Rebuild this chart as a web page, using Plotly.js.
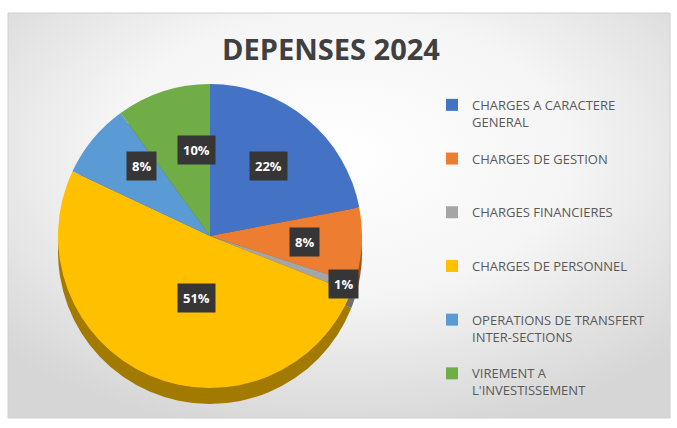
<!DOCTYPE html>
<html>
<head>
<meta charset="utf-8">
<script src="https://cdn.plot.ly/plotly-3.0.1.min.js"></script>
<style>html,body{margin:0;padding:0;background:#fff;}#chart{width:677px;height:428px;}</style>
</head>
<body>
<div id="chart"></div>
<script>
// ---- data ----
const categories = [
  "CHARGES A CARACTERE GENERAL",
  "CHARGES DE GESTION",
  "CHARGES FINANCIERES",
  "CHARGES DE PERSONNEL",
  "OPERATIONS DE TRANSFERT INTER-SECTIONS",
  "VIREMENT A L'INVESTISSEMENT"
];
const legendLabels = [
  "\u00a0<br>CHARGES A CARACTERE<br>GENERAL",
  "\u00a0<br>CHARGES DE GESTION<br>\u00a0",
  "\u00a0<br>CHARGES FINANCIERES<br>\u00a0",
  "\u00a0<br>CHARGES DE PERSONNEL<br>\u00a0",
  "\u00a0<br>OPERATIONS DE TRANSFERT<br>INTER-SECTIONS",
  "\u00a0<br>VIREMENT A<br>L'INVESTISSEMENT"
];
const values = [22, 8, 1, 51, 8, 10];

// ---- style ----
const topColors  = ["#4472C4", "#ED7D31", "#A5A5A5", "#FFC000", "#5B9BD5", "#70AD47"];
const sideColors = ["#2c4d86", "#a4531d", "#6f6f6f", "#a37a00", "#3b6a96", "#4b7630"];
const labelRadius = [0.6, 0.62, 0.93, 0.55, 0.72, 0.7];

const W = 677, H = 428;
const cx = 210, cy = 236, R = 152, depth = 16;
const px = x => x / W, py = y => 1 - y / H;

const main = {
  type: "pie", labels: legendLabels, values: values, sort: false,
  direction: "clockwise", rotation: 0,
  marker: {colors: topColors, line: {width: 0}},
  textinfo: "none", hoverinfo: "skip",
  domain: {x: [px(cx - R), px(cx + R)], y: [py(cy + R), py(cy - R)]}
};
const side = {
  type: "pie", labels: legendLabels, values: values, sort: false,
  direction: "clockwise", rotation: 0, showlegend: false,
  marker: {colors: sideColors, line: {width: 0}},
  textinfo: "none", hoverinfo: "skip",
  domain: {x: [px(cx - R), px(cx + R)], y: [py(cy + R + depth), py(cy - R + depth)]}
};

const total = values.reduce((a, b) => a + b, 0);
let cum = 0;
const annotations = values.map((v, i) => {
  const mid = (cum + v / 2) / total * 2 * Math.PI;
  cum += v;
  const r = R * labelRadius[i];
  return {
    xref: "paper", yref: "paper",
    x: px(cx + r * Math.sin(mid)), y: py(cy - r * Math.cos(mid)),
    text: "<b>" + Math.round(v / total * 100) + "%</b>",
    showarrow: false, bgcolor: "#363636", borderpad: 5,
    font: {family: "Open Sans, sans-serif", size: 13, color: "#ffffff"}
  };
});

const bgSvg = '<svg xmlns="http://www.w3.org/2000/svg" width="662" height="405">' +
  '<defs><radialGradient id="g" cx="50%" cy="35%" r="70%">' +
  '<stop offset="0" stop-color="#ffffff"/><stop offset="0.5" stop-color="#f5f5f5"/>' +
  '<stop offset="1" stop-color="#d6d6d6"/></radialGradient></defs>' +
  '<rect width="662" height="405" fill="url(#g)"/></svg>';

const layout = {
  width: W, height: H,
  margin: {l: 0, r: 0, t: 0, b: 0},
  paper_bgcolor: "#ffffff",
  title: {
    text: "<b>DEPENSES 2024</b>",
    x: px(331), xanchor: "center", y: py(50), yanchor: "middle",
    font: {family: "Open Sans, sans-serif", size: 29, color: "#404040"}
  },
  images: [{
    source: "data:image/svg+xml;charset=utf-8," + encodeURIComponent(bgSvg),
    xref: "paper", yref: "paper", x: px(8), y: py(13),
    sizex: px(670) - px(8), sizey: py(13) - py(418),
    xanchor: "left", yanchor: "top", sizing: "stretch", layer: "below"
  }],
  shapes: [{
    type: "rect", xref: "paper", yref: "paper",
    x0: px(8), x1: px(670), y0: py(418), y1: py(13),
    line: {color: "#d0d0d0", width: 1}, fillcolor: "rgba(0,0,0,0)", layer: "below"
  }],
  legend: {
    x: px(432), xanchor: "left", y: py(73), yanchor: "top",
    bgcolor: "rgba(0,0,0,0)",
    font: {family: "Open Sans, sans-serif", size: 13, color: "#595959"},
    traceorder: "normal"
  },
  annotations: annotations
};

Plotly.newPlot("chart", [side, main], layout, {displayModeBar: false, staticPlot: true});
</script>
</body>
</html>
